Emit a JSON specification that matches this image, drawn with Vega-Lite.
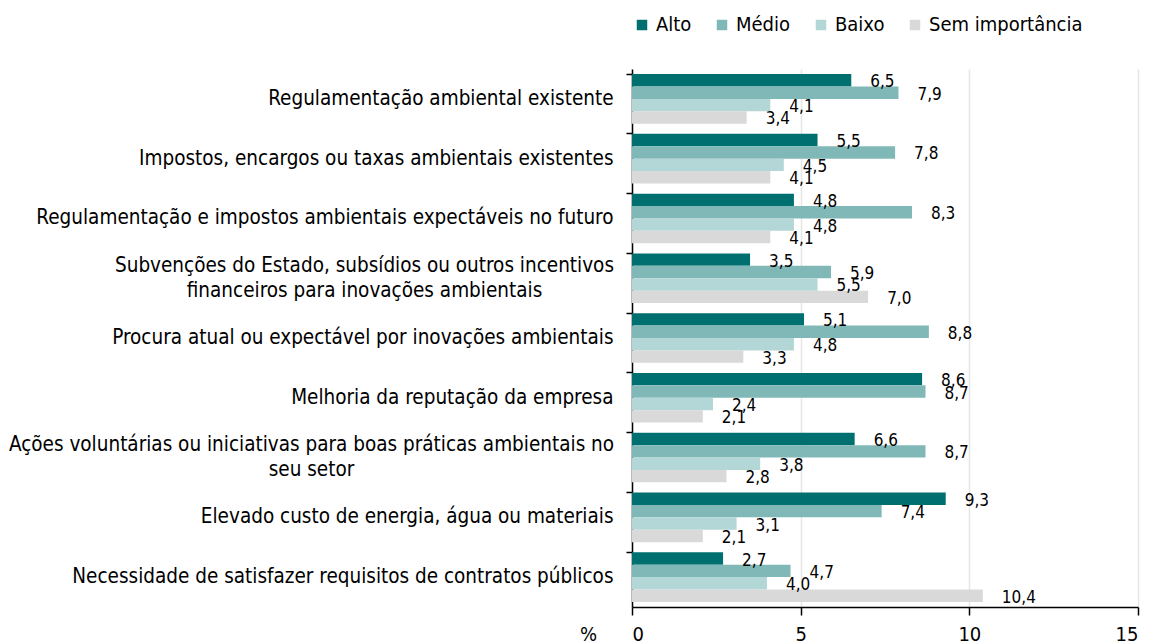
{
  "$schema": "https://vega.github.io/schema/vega-lite/v6.json",
  "width": 506,
  "height": 538,
  "autosize": {"type": "none"},
  "padding": {"left": 632, "top": 69, "right": 17, "bottom": 37},
  "config": {
    "font": "DejaVu Sans Condensed",
    "view": {"stroke": null},
    "locale": {"number": {"decimal": ",", "thousands": ".", "grouping": [3], "currency": ["€", ""]}}
  },
  "data": {
    "values": [
      {"cat": "Regulamentação ambiental existente", "serie": "Alto", "ord": 0, "v": 6.5},
      {"cat": "Regulamentação ambiental existente", "serie": "Médio", "ord": 1, "v": 7.9},
      {"cat": "Regulamentação ambiental existente", "serie": "Baixo", "ord": 2, "v": 4.1},
      {"cat": "Regulamentação ambiental existente", "serie": "Sem importância", "ord": 3, "v": 3.4},
      {"cat": "Impostos, encargos ou taxas ambientais existentes", "serie": "Alto", "ord": 0, "v": 5.5},
      {"cat": "Impostos, encargos ou taxas ambientais existentes", "serie": "Médio", "ord": 1, "v": 7.8},
      {"cat": "Impostos, encargos ou taxas ambientais existentes", "serie": "Baixo", "ord": 2, "v": 4.5},
      {"cat": "Impostos, encargos ou taxas ambientais existentes", "serie": "Sem importância", "ord": 3, "v": 4.1},
      {"cat": "Regulamentação e impostos ambientais expectáveis no futuro", "serie": "Alto", "ord": 0, "v": 4.8},
      {"cat": "Regulamentação e impostos ambientais expectáveis no futuro", "serie": "Médio", "ord": 1, "v": 8.3},
      {"cat": "Regulamentação e impostos ambientais expectáveis no futuro", "serie": "Baixo", "ord": 2, "v": 4.8},
      {"cat": "Regulamentação e impostos ambientais expectáveis no futuro", "serie": "Sem importância", "ord": 3, "v": 4.1},
      {"cat": "Subvenções do Estado, subsídios ou outros incentivos|financeiros para inovações ambientais", "serie": "Alto", "ord": 0, "v": 3.5},
      {"cat": "Subvenções do Estado, subsídios ou outros incentivos|financeiros para inovações ambientais", "serie": "Médio", "ord": 1, "v": 5.9},
      {"cat": "Subvenções do Estado, subsídios ou outros incentivos|financeiros para inovações ambientais", "serie": "Baixo", "ord": 2, "v": 5.5},
      {"cat": "Subvenções do Estado, subsídios ou outros incentivos|financeiros para inovações ambientais", "serie": "Sem importância", "ord": 3, "v": 7.0},
      {"cat": "Procura atual ou expectável por inovações ambientais", "serie": "Alto", "ord": 0, "v": 5.1},
      {"cat": "Procura atual ou expectável por inovações ambientais", "serie": "Médio", "ord": 1, "v": 8.8},
      {"cat": "Procura atual ou expectável por inovações ambientais", "serie": "Baixo", "ord": 2, "v": 4.8},
      {"cat": "Procura atual ou expectável por inovações ambientais", "serie": "Sem importância", "ord": 3, "v": 3.3},
      {"cat": "Melhoria da reputação da empresa", "serie": "Alto", "ord": 0, "v": 8.6},
      {"cat": "Melhoria da reputação da empresa", "serie": "Médio", "ord": 1, "v": 8.7},
      {"cat": "Melhoria da reputação da empresa", "serie": "Baixo", "ord": 2, "v": 2.4},
      {"cat": "Melhoria da reputação da empresa", "serie": "Sem importância", "ord": 3, "v": 2.1},
      {"cat": "Ações voluntárias ou iniciativas para boas práticas ambientais no|seu setor", "serie": "Alto", "ord": 0, "v": 6.6},
      {"cat": "Ações voluntárias ou iniciativas para boas práticas ambientais no|seu setor", "serie": "Médio", "ord": 1, "v": 8.7},
      {"cat": "Ações voluntárias ou iniciativas para boas práticas ambientais no|seu setor", "serie": "Baixo", "ord": 2, "v": 3.8},
      {"cat": "Ações voluntárias ou iniciativas para boas práticas ambientais no|seu setor", "serie": "Sem importância", "ord": 3, "v": 2.8},
      {"cat": "Elevado custo de energia, água ou materiais", "serie": "Alto", "ord": 0, "v": 9.3},
      {"cat": "Elevado custo de energia, água ou materiais", "serie": "Médio", "ord": 1, "v": 7.4},
      {"cat": "Elevado custo de energia, água ou materiais", "serie": "Baixo", "ord": 2, "v": 3.1},
      {"cat": "Elevado custo de energia, água ou materiais", "serie": "Sem importância", "ord": 3, "v": 2.1},
      {"cat": "Necessidade de satisfazer requisitos de contratos públicos", "serie": "Alto", "ord": 0, "v": 2.7},
      {"cat": "Necessidade de satisfazer requisitos de contratos públicos", "serie": "Médio", "ord": 1, "v": 4.7},
      {"cat": "Necessidade de satisfazer requisitos de contratos públicos", "serie": "Baixo", "ord": 2, "v": 4.0},
      {"cat": "Necessidade de satisfazer requisitos de contratos públicos", "serie": "Sem importância", "ord": 3, "v": 10.4}
    ]
  },
  "encoding": {
    "y": {
      "field": "cat",
      "type": "nominal",
      "sort": null,
      "scale": {"paddingInner": 0.17, "paddingOuter": 0.085},
      "axis": {
        "title": null,
        "bandPosition": 0,
        "labelExpr": "split(datum.value, '|')",
        "labelFontSize": 20.5,
        "labelColor": "#000000",
        "labelAlign": {"condition": {"test": "indexof(datum.value, '|') >= 0", "value": "center"}, "value": "right"},
        "labelPadding": {"condition": [
          {"test": "indexof(datum.value, 'Subven') == 0", "value": 262},
          {"test": "indexof(datum.value, 'Ações') == 0", "value": 315}
        ], "value": 13},
        "labelOffset": {"condition": {"test": "indexof(datum.value, '|') >= 0", "value": -12.5}, "value": 0},
        "labelLimit": 700,
        "labelLineHeight": 25,
        "tickSize": 6,
        "tickColor": "#000000",
        "domainColor": "#000000",
        "domainWidth": 1.5,
        "tickWidth": 1.5,
        "grid": false
      }
    },
    "yOffset": {"field": "ord", "type": "ordinal", "scale": {"paddingInner": 0, "paddingOuter": 0}},
    "x": {
      "field": "v",
      "type": "quantitative",
      "scale": {"domain": [0, 15], "nice": false},
      "axis": {
        "title": "%",
        "titleFontSize": 20,
        "titleFontWeight": "normal",
        "titleColor": "#000000",
        "titleX": -44,
        "titleY": 17,
        "titleAlign": "center",
        "titleBaseline": "top",
        "titleAngle": 0,
        "values": [0, 5, 10, 15],
        "labelFontSize": 20,
        "labelColor": "#000000",
        "labelPadding": 9,
        "tickSize": 8,
        "tickColor": "#000000",
        "tickWidth": 1.5,
        "domainColor": "#000000",
        "domainWidth": 1.5,
        "gridColor": "#e6e6e6",
        "gridWidth": 1.5
      }
    }
  },
  "layer": [
    {
      "mark": {"type": "bar"},
      "encoding": {
        "color": {
          "field": "serie",
          "type": "nominal",
          "sort": ["Alto", "Médio", "Baixo", "Sem importância"],
          "scale": {
            "domain": ["Alto", "Médio", "Baixo", "Sem importância"],
            "range": ["#006f6f", "#80b7b7", "#b3d6d6", "#d9d9d9"]
          },
          "legend": {
            "title": null,
            "orient": "none",
            "legendX": 0,
            "legendY": -54,
            "direction": "horizontal",
            "symbolType": "square",
            "symbolSize": 110,
            "symbolStrokeWidth": 0,
            "labelFontSize": 20,
            "labelColor": "#000000",
            "labelOffset": 4,
            "columnPadding": 20
          }
        }
      }
    },
    {
      "mark": {"type": "text", "align": "left", "baseline": "middle", "dx": 19, "dy": 2, "fontSize": 17, "color": "#000000"},
      "encoding": {
        "text": {"field": "v", "type": "quantitative", "format": ".1f"}
      }
    }
  ]
}
